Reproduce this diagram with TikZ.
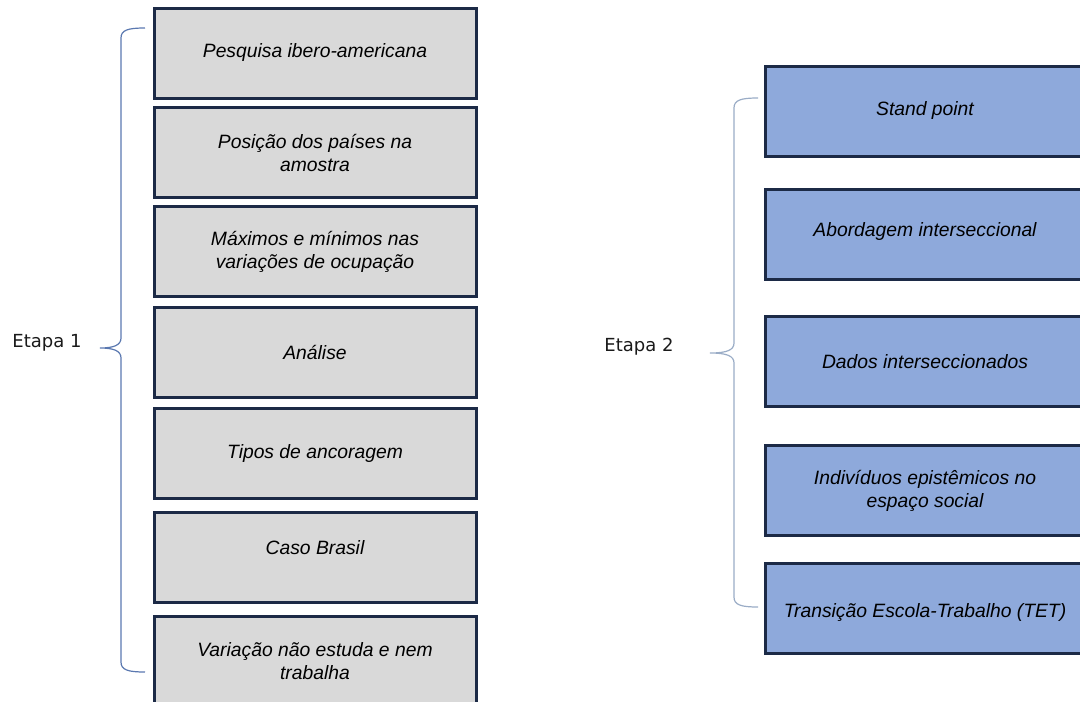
\documentclass[tikz,border=0pt]{standalone}
\usepackage{fontspec}
\setmainfont{Liberation Sans}
\newfontfamily\etapafont{DejaVu Sans}
\definecolor{boxline}{HTML}{1C2A46}
\definecolor{grayfill}{HTML}{D9D9D9}
\definecolor{bluefill}{HTML}{8EA9DB}
\definecolor{braceA}{HTML}{5A78B0}
\definecolor{braceB}{HTML}{9AACC6}
\definecolor{labtxt}{HTML}{1A1A1A}
\tikzset{
  boxbase/.style={draw=boxline, line width=3pt, minimum height=90pt, align=center,
    inner sep=0pt, font=\fontsize{19.3}{23}\selectfont\itshape, text=black},
  lbox/.style={boxbase, fill=grayfill, minimum width=322pt},
  rbox/.style={boxbase, fill=bluefill, minimum width=320pt},
  etapa/.style={font=\etapafont\fontsize{18}{21}\selectfont, text=labtxt, inner sep=0pt},
  bracel/.style={draw=braceA, line width=1.2pt},
  bracer/.style={draw=braceB, line width=1.2pt}
}
\begin{document}
\begin{tikzpicture}[x=1pt,y=-1pt]
\useasboundingbox (0,0) rectangle (1080,702);
\begin{scope}
\clip (0,0) rectangle (1080,702);
% left column
\node[lbox] (l1) at (315,53) {Pesquisa ibero-americana};
\node[lbox] (l2) at (315,152.5) {Posição dos países na\\amostra};
\node[lbox] (l3) at (315,251.5) {Máximos e mínimos nas\\variações de ocupação};
\node[lbox] (l4) at (315,352) {Análise};
\node[lbox] (l5) at (315,453.5) {Tipos de ancoragem};
\node[lbox, text depth=20pt] (l6) at (315,557) {Caso Brasil};
\node[lbox] (l7) at (315,661) {Variação não estuda e nem\\trabalha};
% right column
\node[rbox] (r1) at (925,111) {Stand point};
\node[rbox, text depth=8pt] (r2) at (925,234) {Abordagem interseccional};
\node[rbox] (r3) at (925,361.5) {Dados interseccionados};
\node[rbox] (r4) at (925,490.5) {Indivíduos epistêmicos no\\espaço social};
\node[rbox, text height=22pt] (r5) at (925,608) {Transição Escola-Trabalho (TET)};
\end{scope}
% labels
\node[etapa] (e1) at (47,343) {Etapa 1};
\node[etapa] (e2) at (639,347) {Etapa 2};
% braces
\coordinate (b1top) at (145,28);
\coordinate (b1tip) at (100,348);
\coordinate (b1bot) at (145,672);
\draw[bracel] (b1top) .. controls (128,28) and (121,30) .. (121,38)
  -- (121,338) .. controls (121,345) and (114,348) .. (b1tip)
  .. controls (114,348) and (121,351) .. (121,358)
  -- (121,662) .. controls (121,670) and (128,672) .. (b1bot);
\coordinate (b2top) at (758,98);
\coordinate (b2tip) at (710,353);
\coordinate (b2bot) at (758,607);
\draw[bracer] (b2top) .. controls (741,98) and (734,100) .. (734,108)
  -- (734,343) .. controls (734,350) and (727,353) .. (b2tip)
  .. controls (727,353) and (734,356) .. (734,363)
  -- (734,597) .. controls (734,605) and (741,607) .. (b2bot);
\end{tikzpicture}
\end{document}
